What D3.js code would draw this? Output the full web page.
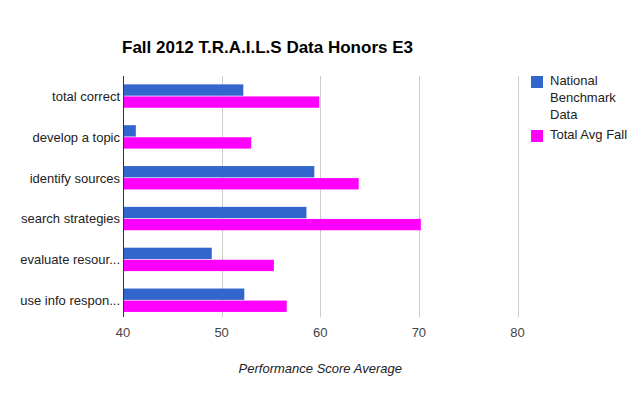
<!DOCTYPE html>
<html><head><meta charset="utf-8">
<script src="https://cdn.jsdelivr.net/npm/d3@7"></script>
<style>body{margin:0;background:#fff;}text{font-family:"Liberation Sans",Arial,sans-serif;}</style>
</head><body>
<svg id="c" width="640" height="396"></svg>
<script>
const categories = ["total correct","develop a topic","identify sources","search strategies","evaluate resour...","use info respon..."];
const seriesNames = ["National Benchmark Data","Total Avg Fall"];
const national = [52.2, 41.3, 59.4, 58.6, 49.0, 52.3];
const totalAvgFall = [59.9, 53.0, 63.9, 70.2, 55.3, 56.6];
const xTicks = [40, 50, 60, 70, 80];
const colors = ["#3366cc", "#ff00ff"];

(function () {
const svg = d3.select("#c");
const pL = 123, pR = 517.5, pT = 76, pB = 321;
const x = d3.scaleLinear().domain([40, 80]).range([pL, pR]);
const y = d3.scaleBand().domain(categories).range([pT, pB]).paddingInner(0.41).paddingOuter(0.205);
const sub = d3.scaleBand().domain([0,1]).range([0, y.bandwidth()]);

// gridlines
svg.append("g").selectAll("line").data(xTicks.slice(1)).join("line")
  .attr("x1", d => Math.round(x(d)) + 0.5).attr("x2", d => Math.round(x(d)) + 0.5)
  .attr("y1", pT).attr("y2", pB - 4).attr("stroke", "#cccccc");

// bars
const series = [national, totalAvgFall];
series.forEach((vals, si) => {
  svg.append("g").selectAll("rect").data(vals).join("rect")
    .attr("x", x(40))
    .attr("y", (d, i) => y(categories[i]) + sub(si))
    .attr("width", d => x(d) - x(40))
    .attr("height", sub.bandwidth() - 0.7)
    .attr("fill", colors[si]);
});

// left axis line
svg.append("line").attr("x1", pL + 0.5).attr("x2", pL + 0.5).attr("y1", pT).attr("y2", pB - 4)
  .attr("stroke", "#333").attr("stroke-width", 1);

// category labels
svg.append("g").selectAll("text").data(categories).join("text")
  .attr("x", pL - 3).attr("y", d => y(d) + y.bandwidth() / 2 + 4.5)
  .attr("text-anchor", "end").attr("font-size", 13).attr("fill", "#222").text(d => d);

// x tick labels
svg.append("g").selectAll("text").data(xTicks).join("text")
  .attr("x", d => x(d)).attr("y", 337)
  .attr("text-anchor", "middle").attr("font-size", 13).attr("fill", "#444").text(d => d);

// axis title
svg.append("text").attr("x", x(60)).attr("y", 373).attr("text-anchor", "middle")
  .attr("font-size", 13).attr("font-style", "italic").attr("fill", "#222").text("Performance Score Average");

// title
svg.append("text").attr("x", 122).attr("y", 53).attr("font-size", 17).attr("font-weight", "bold")
  .attr("fill", "#000").text("Fall 2012 T.R.A.I.L.S Data Honors E3");

// legend
const leg = svg.append("g");
leg.append("rect").attr("x", 531).attr("y", 76).attr("width", 12).attr("height", 12).attr("fill", colors[0]);
const t1 = leg.append("text").attr("x", 550).attr("font-size", 13).attr("fill", "#222");
["National", "Benchmark", "Data"].forEach((w, i) => t1.append("tspan").attr("x", 550).attr("y", 85 + i * 17).text(w));
leg.append("rect").attr("x", 531).attr("y", 130).attr("width", 12).attr("height", 12).attr("fill", colors[1]);
leg.append("text").attr("x", 550).attr("y", 139).attr("font-size", 13).attr("fill", "#222").text(seriesNames[1]);
})();
</script>
</body></html>
